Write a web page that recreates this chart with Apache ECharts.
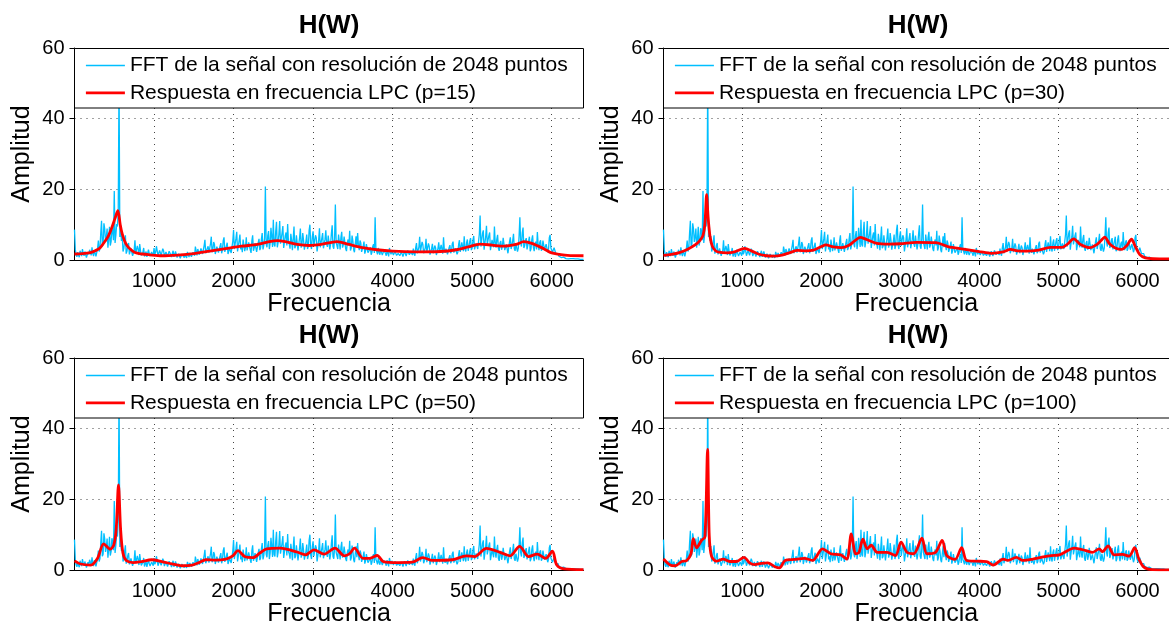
<!DOCTYPE html>
<html>
<head>
<meta charset="utf-8">
<script src="https://cdn.jsdelivr.net/npm/echarts@6/dist/echarts.min.js"></script>
<style>
  html, body { margin: 0; padding: 0; background: #fff; }
  #chart { width: 1169px; height: 628px; }
</style>
</head>
<body>
<div id="chart"></div>
<script>
// ---- texts ----
const titleText = 'H(W)';
const xName = 'Frecuencia';
const yName = 'Amplitud';
const fftName = 'FFT de la señal con resolución de 2048 puntos';
const lpcNames = [
  'Respuesta en frecuencia LPC (p=15)',
  'Respuesta en frecuencia LPC (p=30)',
  'Respuesta en frecuencia LPC (p=50)',
  'Respuesta en frecuencia LPC (p=100)'
];

// ---- tick values ----
const xTicks = [1000, 2000, 3000, 4000, 5000, 6000];
const yTicks = [0, 20, 40, 60];

// ---- FFT magnitude, one value every 10 Hz from 0 to 6400 Hz (one row = 100 Hz) ----
const fftStepHz = 10;
const fftAmp = [
  8.6, 3.0, 1.5, 0.9, 2.2, 1.4, 0.8, 2.6, 1.9, 1.1,
  3.1, 1.8, 1.2, 2.4, 2.0, 0.7, 0.9, 2.2, 1.6, 2.9,
  2.4, 1.3, 3.6, 1.9, 1.1, 2.8, 2.3, 1.0, 1.4, 3.3,
  5.5, 2.4, 3.2, 7.6, 11.1, 3.9, 4.5, 10.4, 8.8, 5.1,
  6.5, 8.9, 3.5, 5.8, 9.4, 4.1, 5.2, 9.0, 8.0, 5.6,
  19.5, 4.8, 7.0, 10.2, 9.5, 14.0, 52.0, 6.5, 9.8, 5.4,
  6.8, 2.4, 3.2, 5.3, 7.0, 1.8, 2.5, 4.1, 4.8, 1.6,
  2.0, 3.3, 3.6, 1.2, 1.5, 2.7, 5.6, 1.9, 2.4, 4.0,
  3.0, 1.4, 4.5, 2.6, 1.3, 1.8, 2.2, 3.4, 1.0, 1.7,
  2.4, 0.9, 1.2, 2.9, 1.8, 1.1, 0.8, 2.3, 2.0, 1.2,
  3.4, 1.6, 2.2, 3.9, 4.4, 1.2, 1.5, 2.7, 3.0, 1.3,
  1.8, 3.2, 2.6, 1.1, 0.9, 2.3, 2.8, 1.0, 1.4, 2.5,
  2.3, 1.5, 0.8, 1.9, 2.6, 0.9, 1.1, 2.4, 1.9, 0.7,
  0.6, 1.8, 1.6, 0.5, 0.9, 1.7, 2.1, 1.2, 0.7, 1.5,
  1.4, 0.6, 2.3, 1.6, 0.8, 2.0, 1.7, 0.9, 1.1, 2.2,
  2.5, 1.2, 3.8, 2.6, 1.3, 3.1, 2.9, 1.5, 1.6, 3.3,
  3.6, 1.7, 2.0, 4.1, 5.7, 1.9, 2.4, 3.3, 3.9, 2.1,
  1.8, 4.6, 6.6, 2.2, 3.0, 5.1, 4.4, 1.7, 2.2, 3.8,
  3.5, 2.1, 1.6, 3.9, 4.8, 1.9, 2.9, 5.5, 6.4, 2.3,
  2.6, 4.0, 4.9, 1.7, 1.8, 3.3, 3.8, 2.0, 2.4, 5.3,
  8.5, 3.1, 3.4, 6.1, 8.0, 2.4, 2.8, 5.5, 7.2, 3.0,
  3.9, 2.2, 5.8, 4.2, 2.5, 3.6, 6.4, 2.7, 3.2, 5.0,
  4.6, 2.9, 2.0, 5.4, 7.0, 2.6, 3.5, 4.8, 5.2, 2.3,
  2.6, 4.9, 6.0, 2.8, 3.4, 5.9, 7.6, 3.0, 4.1, 6.2,
  20.8, 4.5, 3.6, 6.9, 8.2, 3.1, 4.8, 9.1, 6.6, 3.7,
  11.4, 4.4, 3.8, 8.1, 10.8, 3.6, 5.0, 7.3, 11.0, 4.6,
  4.2, 7.7, 9.6, 3.4, 3.5, 6.9, 7.8, 4.1, 10.2, 5.3,
  4.6, 3.2, 7.4, 5.6, 2.8, 6.1, 9.5, 3.3, 3.9, 7.0,
  6.8, 2.7, 3.2, 6.3, 8.9, 3.5, 4.4, 7.6, 5.6, 2.9,
  2.9, 5.3, 7.2, 3.1, 4.0, 8.4, 10.0, 4.2, 3.1, 6.6,
  8.1, 4.0, 3.5, 7.0, 6.3, 2.4, 2.6, 5.7, 9.0, 3.6,
  4.1, 6.2, 7.6, 3.3, 2.9, 5.9, 8.4, 4.5, 3.7, 6.9,
  6.5, 3.0, 4.4, 7.5, 9.8, 3.8, 3.2, 6.1, 15.7, 5.0,
  4.6, 3.1, 7.2, 5.1, 3.0, 6.4, 8.0, 3.5, 4.3, 6.6,
  6.2, 3.2, 2.5, 5.0, 5.8, 4.1, 8.3, 2.7, 3.4, 6.9,
  5.4, 2.9, 2.2, 4.6, 6.7, 3.6, 7.6, 4.2, 2.8, 5.5,
  4.8, 2.3, 1.9, 3.9, 5.2, 1.8, 2.6, 4.5, 4.0, 2.1,
  1.7, 2.9, 3.6, 1.5, 2.2, 3.8, 4.5, 2.0, 12.1, 3.0,
  2.4, 1.6, 3.4, 2.2, 1.5, 3.0, 2.9, 1.4, 1.8, 2.7,
  3.1, 1.9, 1.2, 2.8, 2.5, 1.0, 3.4, 2.3, 1.6, 2.6,
  2.8, 1.4, 1.1, 2.5, 2.4, 1.3, 0.8, 1.9, 2.0, 1.2,
  1.3, 2.3, 2.6, 1.0, 0.9, 2.5, 2.2, 1.1, 1.4, 2.7,
  2.9, 1.5, 1.0, 2.2, 2.1, 1.4, 3.2, 1.8, 1.2, 3.5,
  4.8, 1.9, 2.0, 3.6, 6.6, 2.4, 2.8, 5.1, 4.4, 1.9,
  1.8, 3.4, 6.0, 2.2, 2.6, 4.7, 3.9, 1.5, 1.6, 3.2,
  4.6, 1.9, 2.3, 4.1, 3.5, 1.4, 1.5, 3.3, 5.0, 2.2,
  2.4, 4.3, 3.8, 1.8, 6.4, 2.9, 2.0, 3.2, 3.6, 1.6,
  1.7, 3.5, 4.2, 1.9, 2.5, 4.6, 5.2, 2.1, 1.9, 3.3,
  3.8, 1.6, 2.2, 4.4, 5.6, 2.3, 2.7, 5.0, 4.5, 2.5,
  6.7, 3.2, 2.4, 4.9, 5.8, 2.6, 3.0, 5.3, 6.2, 2.8,
  3.4, 5.6, 6.8, 3.0, 2.8, 4.7, 5.0, 3.1, 3.6, 7.3,
  12.6, 3.8, 4.2, 7.5, 8.4, 2.9, 3.3, 6.6, 9.7, 4.4,
  4.0, 6.9, 7.8, 2.8, 3.0, 5.7, 6.0, 3.6, 9.5, 4.9,
  3.5, 5.9, 7.1, 3.3, 2.6, 4.8, 5.4, 2.9, 3.9, 6.3,
  6.0, 2.8, 2.4, 4.4, 4.8, 1.9, 2.1, 5.2, 6.4, 3.1,
  3.0, 5.5, 7.4, 3.2, 2.6, 4.6, 5.1, 2.4, 3.3, 6.8,
  12.1, 4.9, 3.8, 7.7, 9.2, 3.4, 4.0, 5.5, 6.2, 3.0,
  2.7, 5.4, 6.6, 2.5, 3.1, 5.8, 7.0, 3.6, 2.5, 4.6,
  5.2, 3.0, 7.9, 4.4, 2.8, 5.0, 5.6, 2.6, 3.2, 5.5,
  6.0, 2.9, 2.4, 4.5, 4.8, 2.2, 3.0, 6.3, 7.1, 3.4,
  3.6, 2.2, 2.6, 3.5, 3.2, 1.9, 1.4, 2.3, 1.8, 1.1,
  0.9, 1.2, 0.7, 0.6, 0.5, 0.8, 0.6, 0.4, 0.4, 0.6,
  0.5, 0.3, 0.3, 0.5, 0.4, 0.3, 0.3, 0.4, 0.4, 0.2,
  0.3, 0.3, 0.2, 0.3, 0.3, 0.2, 0.2, 0.3, 0.3, 0.2,
  0.2
];

// ---- LPC envelopes (frequency in Hz, amplitude) ----
const lpc15Freq = [0, 100, 200, 260, 320, 386, 430, 470, 510, 545, 575, 600, 630, 660, 700, 760, 850, 930, 1100, 1300,
  1500, 1700, 1900, 2100, 2300, 2450, 2550, 2650, 2800, 2950, 3100, 3300, 3450, 3600, 3800, 4000, 4300, 4600, 4800, 4950,
  5100, 5250, 5400, 5550, 5650, 5750, 5900, 6000, 6100, 6200, 6400];
const lpc15Amp = [1.7, 1.8, 2.1, 2.6, 3.4, 5.4, 7.0, 9.2, 11.8, 14.0, 10.0, 7.4, 5.4, 4.1, 3.1, 2.1, 1.7, 1.5, 1.2, 1.4,
  1.8, 2.5, 3.2, 3.9, 4.4, 5.2, 5.5, 5.2, 4.4, 4.1, 4.4, 5.2, 4.4, 3.6, 2.9, 2.5, 2.3, 2.4, 2.9, 3.7,
  4.5, 4.2, 3.9, 4.4, 5.2, 4.7, 3.2, 2.0, 1.6, 1.3, 1.2];

const lpc30Freq = [0, 100, 200, 300, 400, 460, 500, 525, 546, 565, 590, 620, 660, 700, 800, 900, 1027, 1120, 1200, 1300,
  1400, 1500, 1600, 1700, 1800, 1900, 2000, 2054, 2150, 2250, 2350, 2420, 2490, 2560, 2700, 2850, 3000, 3200, 3450, 3600,
  3800, 4000, 4150, 4300, 4391, 4480, 4600, 4750, 4900, 5050, 5120, 5193, 5280, 5400, 5480, 5540, 5585, 5650, 5720, 5800,
  5870, 5925, 5970, 6030, 6100, 6200, 6400];
const lpc30Amp = [1.3, 1.6, 2.1, 3.0, 4.3, 5.5, 7.0, 10.5, 18.5, 12.0, 6.5, 3.8, 2.6, 2.2, 2.0, 2.3, 3.3, 2.5, 1.7, 1.2,
  1.1, 1.4, 2.1, 2.7, 2.6, 2.8, 3.8, 4.3, 3.7, 3.5, 4.2, 5.4, 6.4, 5.9, 4.7, 4.5, 4.6, 5.0, 4.9, 3.8,
  3.1, 2.4, 1.9, 2.3, 3.0, 2.6, 2.5, 2.8, 3.6, 3.6, 4.6, 6.0, 4.4, 3.5, 4.3, 5.5, 6.5, 4.5, 3.4, 3.0,
  4.2, 5.9, 4.0, 1.5, 0.6, 0.35, 0.3];

const lpc50Freq = [0, 77, 205, 290, 367, 450, 495, 524, 553, 580, 609, 651, 737, 842, 970, 1098, 1226, 1353, 1480, 1565,
  1650, 1778, 1905, 1990, 2055, 2140, 2246, 2331, 2416, 2586, 2799, 2905, 3011, 3139, 3275, 3394, 3458, 3521, 3628, 3713,
  3806, 3883, 4074, 4244, 4380, 4500, 4755, 4925, 5030, 5180, 5350, 5477, 5596, 5711, 5817, 5924, 6009, 6064, 6158, 6400];
const lpc50Amp = [2.6, 1.7, 1.4, 3.3, 7.4, 5.9, 7.2, 11.5, 24.1, 11.5, 4.8, 2.7, 2.1, 2.4, 2.9, 2.4, 1.7, 1.2, 1.4, 2.1,
  2.9, 2.8, 3.1, 4.0, 5.5, 3.8, 3.5, 4.8, 6.0, 6.2, 5.1, 4.3, 5.7, 4.5, 6.2, 4.0, 4.6, 6.2, 3.3, 3.3,
  4.1, 2.4, 2.1, 2.2, 3.5, 2.7, 2.9, 4.0, 3.8, 6.1, 5.0, 4.0, 6.7, 3.8, 4.5, 3.3, 5.3, 1.4, 0.3, 0.1];

const lpc100Freq = [0, 84, 147, 231, 294, 348, 377, 419, 482, 524, 558, 579, 608, 671, 755, 839, 923, 1019, 1091, 1154,
  1237, 1321, 1405, 1468, 1539, 1657, 1783, 1888, 2013, 2118, 2244, 2320, 2378, 2433, 2475, 2525, 2580, 2630, 2706, 2831,
  2936, 3008, 3083, 3167, 3272, 3335, 3440, 3528, 3586, 3691, 3775, 3838, 3964, 4090, 4174, 4300, 4362, 4467, 4551, 4677,
  4782, 4908, 5013, 5201, 5348, 5432, 5516, 5558, 5629, 5705, 5810, 5894, 5965, 6019, 6082, 6187, 6400];
const lpc100Amp = [3.1, 1.4, 1.2, 2.4, 2.7, 4.6, 8.9, 6.3, 8.4, 9.3, 34.1, 9.8, 3.9, 2.5, 3.1, 2.4, 2.4, 3.6, 2.0, 1.5,
  1.9, 2.0, 1.0, 0.6, 2.7, 3.0, 3.3, 2.7, 6.0, 4.6, 4.3, 3.1, 10.2, 4.6, 5.0, 8.7, 6.0, 7.0, 5.0, 5.0,
  4.1, 7.9, 5.0, 4.6, 9.0, 4.6, 4.9, 8.4, 4.1, 3.0, 6.3, 2.7, 2.5, 2.4, 1.4, 3.1, 2.7, 3.6, 2.7, 3.1,
  3.6, 4.1, 4.3, 6.2, 5.5, 5.0, 6.0, 5.2, 6.8, 4.3, 4.4, 3.9, 6.3, 3.1, 0.8, 0.1, 0.05];

const lpcFreqs = [lpc15Freq, lpc30Freq, lpc50Freq, lpc100Freq];
const lpcAmps = [lpc15Amp, lpc30Amp, lpc50Amp, lpc100Amp];

// ---- layout of the four panels (pixels) ----
const panels = [
  { left: 74.5, top: 48 },
  { left: 663.5, top: 48 },
  { left: 74.5, top: 358 },
  { left: 663.5, top: 358 }
];
const plotW = 509, plotH = 212, legendH = 59.5;

const fontFamily = "'Liberation Sans', Arial, Helvetica, sans-serif";
const cyan = '#00BFFF';
const red = '#FF0000';
const fftWidth = 1.3, lpcWidth = 2.8;

const fftData = fftAmp.map((v, i) => [i * fftStepHz, v]);

const option = {
  animation: false,
  backgroundColor: '#fff',
  textStyle: { fontFamily: fontFamily },
  title: [], grid: [], xAxis: [], yAxis: [], series: [], legend: [],
  graphic: { elements: [] }
};

panels.forEach((p, i) => {
  option.title.push({
    text: titleText,
    left: p.left + plotW / 2,
    top: p.top - 35,
    textAlign: 'center',
    padding: 0,
    textStyle: { fontSize: 26, fontWeight: 'bold', color: '#000', fontFamily: fontFamily }
  });
  option.grid.push({ left: p.left, top: p.top, width: plotW, height: plotH, containLabel: false });
  option.xAxis.push({
    type: 'value', gridIndex: i, min: 0, max: 6400, interval: 1000,
    name: xName, nameLocation: 'middle', nameGap: 30,
    nameTextStyle: { fontSize: 25, color: '#000', fontFamily: fontFamily },
    axisLine: { show: true, onZero: false, lineStyle: { color: '#000', width: 1 } },
    axisTick: { show: true, inside: false, length: 5, customValues: xTicks, lineStyle: { color: '#000', width: 1 } },
    axisLabel: {
      customValues: xTicks, fontSize: 20, color: '#000', margin: 11, fontFamily: fontFamily,
      formatter: (v) => String(v)
    },
    splitLine: { show: true, lineStyle: { color: '#444', width: 1, type: [1, 5] } }
  });
  option.yAxis.push({
    type: 'value', gridIndex: i, min: 0, max: 60, interval: 20,
    name: yName, nameLocation: 'middle', nameGap: 40, nameRotate: 90,
    nameTextStyle: { fontSize: 25, color: '#000', fontFamily: fontFamily },
    axisLine: { show: true, onZero: false, lineStyle: { color: '#000', width: 1 } },
    axisTick: { show: true, inside: false, length: 5, customValues: yTicks, lineStyle: { color: '#000', width: 1 } },
    axisLabel: {
      customValues: yTicks, fontSize: 20, color: '#000', margin: 10, fontFamily: fontFamily,
      formatter: (v) => String(v)
    },
    splitLine: { show: true, lineStyle: { color: '#444', width: 1, type: [1, 5] } }
  });
  option.series.push({
    name: fftName, type: 'line', xAxisIndex: i, yAxisIndex: i,
    data: fftData, symbol: 'none', clip: true,
    lineStyle: { color: cyan, width: fftWidth }, itemStyle: { color: cyan }, z: 2
  });
  option.series.push({
    name: lpcNames[i], type: 'line', xAxisIndex: i, yAxisIndex: i,
    data: lpcFreqs[i].map((f, k) => [f, lpcAmps[i][k]]),
    symbol: 'none', smooth: 0.3, clip: true,
    lineStyle: { color: red, width: lpcWidth }, itemStyle: { color: red }, z: 2
  });
  // legend frame across the top of the plot
  option.graphic.elements.push({
    type: 'rect', z: 3,
    shape: { x: p.left, y: p.top + 0.5, width: plotW, height: legendH },
    style: { fill: '#fff', stroke: '#000', lineWidth: 1 }
  });
  option.legend.push({
    data: [
      { name: fftName, lineStyle: { width: fftWidth }, itemStyle: { opacity: 0 } },
      { name: lpcNames[i], lineStyle: { width: lpcWidth }, itemStyle: { opacity: 0 } }
    ],
    orient: 'vertical',
    left: p.left + 10,
    top: p.top + 7,
    padding: 0,
    itemWidth: 39, itemHeight: 14, itemGap: 6.4,
    selectedMode: false,
    z: 5,
    textStyle: { fontSize: 21, color: '#000', fontFamily: fontFamily }
  });
});

const chart = echarts.init(document.getElementById('chart'), null, { renderer: 'canvas' });
chart.setOption(option);
</script>
</body>
</html>
